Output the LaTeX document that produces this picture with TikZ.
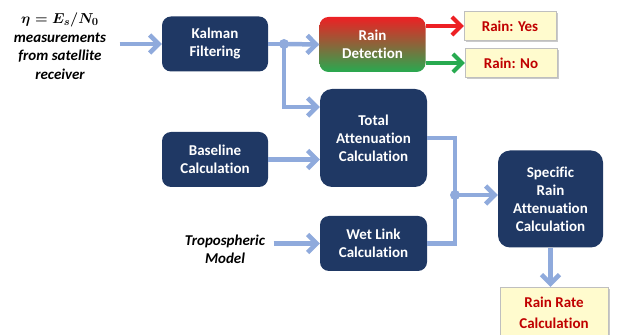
\documentclass[tikz,border=0pt]{standalone}
\usepackage{amsmath}
\usepackage{fontspec}
\setmainfont{Carlito}[Ligatures={NoCommon}]
\usetikzlibrary{calc}
\usetikzlibrary{arrows.meta}
\usetikzlibrary{shadows}
\definecolor{boxblue}{RGB}{31,56,100}
\definecolor{flowblue}{RGB}{143,170,220}
\definecolor{notered}{RGB}{192,0,0}
\definecolor{notefill}{RGB}{255,251,206}
\definecolor{rainred}{RGB}{237,32,36}
\definecolor{raingreen}{RGB}{40,170,80}

\begin{document}
\begin{tikzpicture}[x=1pt, y=1pt,
  font=\fontsize{15}{18}\selectfont\bfseries,
  block/.style={draw=none, text=white, rounded corners=9pt, align=center,
    minimum width=106pt, minimum height=55pt, inner sep=0pt},
  navy/.style={block, fill=boxblue},
  note/.style={draw=black!25, fill=notefill, text=notered, align=center,
    minimum width=92pt, minimum height=29pt, inner sep=0pt,
    drop shadow={shadow xshift=2pt, shadow yshift=-2pt, opacity=0.35, fill=black!60}},
  flow/.style={draw=flowblue, line width=4.5pt},
  >={Straight Barb[length=9pt, width=18pt]}]
 \useasboundingbox (0,0) rectangle (617,334);
 \clip (0,0) rectangle (617,334);

 \node[name=input, align=center, font=\fontsize{15}{18.5}\selectfont\bfseries\itshape] at (60,288)
   {$\boldsymbol{\eta = E_s/N_0}$\\ measurements\\ from satellite\\ receiver};
 \node[name=kalman, navy] at (215,290) {Kalman\\Filtering};
 \node[name=detect, block, top color=rainred, bottom color=raingreen] at (372.5,289.5) {Rain\\Detection};
 \node[name=yes, note] at (510,308) {Rain: Yes};
 \node[name=no, note] at (511,271) {Rain: No};
 \node[name=total, navy, minimum width=107pt, minimum height=98pt, rounded corners=12pt] at (373.5,196)
   {Total\\Attenuation\\Calculation};
 \node[name=baseline, navy] at (215,174.5) {Baseline\\Calculation};
 \node[name=wet, navy, minimum width=107pt] at (373.5,90.5) {Wet Link\\Calculation};
 \node[name=trop, align=center, font=\fontsize{15}{18}\selectfont\bfseries\itshape] at (225,85)
   {Tropospheric\\Model};
 \node[name=specific, navy, minimum width=105pt, minimum height=97pt, rounded corners=12pt] at (550.5,135)
   {Specific\\Rain\\Attenuation\\Calculation};
 \node[name=rate, note, minimum width=108pt, minimum height=51pt, font=\fontsize{15}{21}\selectfont\bfseries] at (554,21.5)
   {Rain Rate\\Calculation};

 \coordinate (split1) at (284,290);
 \coordinate (split2) at (455,139);

 % blue flow lines
 \draw[flow, ->] ([xshift=10pt]input.east |- kalman.west) -- (kalman.west);
 \draw[flow] (kalman.east) -- (split1);
 \draw[flow, ->] (split1) -- (detect.west);
 \draw[flow, ->] (split1) |- ([yshift=31pt]total.west);
 \draw[flow, ->] (baseline.east) -- (baseline.east -| total.west);
 \draw[flow, ->] ([xshift=5pt]trop.east |- wet.west) -- (wet.west);
 \draw[flow] (total.east) -| (split2) |- (wet.east);
 \draw[flow, ->] (split2) -- (split2 -| specific.west);
 \draw[flow, ->] (specific.south) -- (specific.south |- rate.north);
 \fill[flowblue] (split1) circle (5pt);
 \fill[flowblue] (split2) circle (5pt);

 % rain yes / no
 \draw[rainred, line width=4pt, ->] (detect.east |- yes.west) -- (yes.west);
 \draw[raingreen, line width=4pt, ->] (detect.east |- no.west) -- (no.west);
\end{tikzpicture}
\end{document}
